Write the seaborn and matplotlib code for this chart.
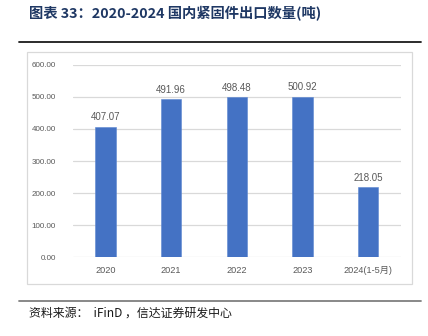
import matplotlib
matplotlib.use("Agg")
import matplotlib.pyplot as plt
import seaborn as sns
import pandas as pd
from matplotlib.patches import Rectangle
from matplotlib.lines import Line2D

categories = ["2020", "2021", "2022", "2023", "2024(1-5月)"]
values = [407.07, 491.96, 498.48, 500.92, 218.05]
yticks = [0, 100, 200, 300, 400, 500, 600]

sns.set_theme(style="white")
plt.rcParams['font.family'] = ['Liberation Sans', 'Noto Sans CJK SC', 'DejaVu Sans']

W, H = 428, 336
fig = plt.figure(figsize=(W / 100, H / 100), dpi=100)

# outer chart box
fig.add_artist(Rectangle((27.3 / W, 1 - 283.7 / H), (412.3 - 27.3) / W, (283.7 - 52.3) / H,
                         transform=fig.transFigure, fill=False, edgecolor="#d9d9d9", lw=0.9))

# rules
fig.add_artist(Line2D([19 / W, 421 / W], [1 - 42.3 / H] * 2, transform=fig.transFigure,
                      color="#1a1a1a", lw=1.3))
fig.add_artist(Line2D([19 / W, 421 / W], [1 - 300.7 / H] * 2, transform=fig.transFigure,
                      color="#7f7f7f", lw=1.3))

fig.text(29 / W, 1 - 13.5 / H, "图表 33：2020-2024 国内紧固件出口数量(吨)",
         family=['Noto Sans CJK SC', 'DejaVu Sans'], fontsize=10.3, fontweight="bold",
         color="#1f3864", ha="left", va="center")
fig.text(29 / W, 1 - 313 / H, "资料来源：  iFinD ，信达证券研发中心",
         family=['Noto Sans CJK SC', 'DejaVu Sans'], fontsize=8.6,
         color="#1a1a1a", ha="left", va="center")

left, right = 72.7 / W, 401 / W
bottom, top = 1 - 257.3 / H, 1 - 64.7 / H
ax = fig.add_axes([left, bottom, right - left, top - bottom])

df = pd.DataFrame({"cat": categories, "val": values})
sns.barplot(data=df, x="cat", y="val", color="#4472C4", width=0.31, ax=ax,
            saturation=1, edgecolor="#5b86d0", linewidth=0.4, zorder=3)

ax.set_xlim(-0.5, 4.5)
ax.set_ylim(0, 600)
ax.set_yticks(yticks)
ax.set_yticklabels([f"{v:.2f}" for v in yticks])
ax.set_xlabel("")
ax.set_ylabel("")
ax.grid(axis="y", color="#d9d9d9", lw=0.9, zorder=0)
ax.set_axisbelow(True)
for s in ax.spines.values():
    s.set_visible(False)
ax.tick_params(axis="y", length=0, pad=12, labelsize=5.8, labelcolor="#595959")
ax.tick_params(axis="x", length=0, pad=6.5, labelsize=6.6, labelcolor="#595959")

for c in ax.containers:
    ax.bar_label(c, fmt="%.2f", padding=3, fontsize=7, color="#595959")

fig.savefig("out.png", dpi=100)
